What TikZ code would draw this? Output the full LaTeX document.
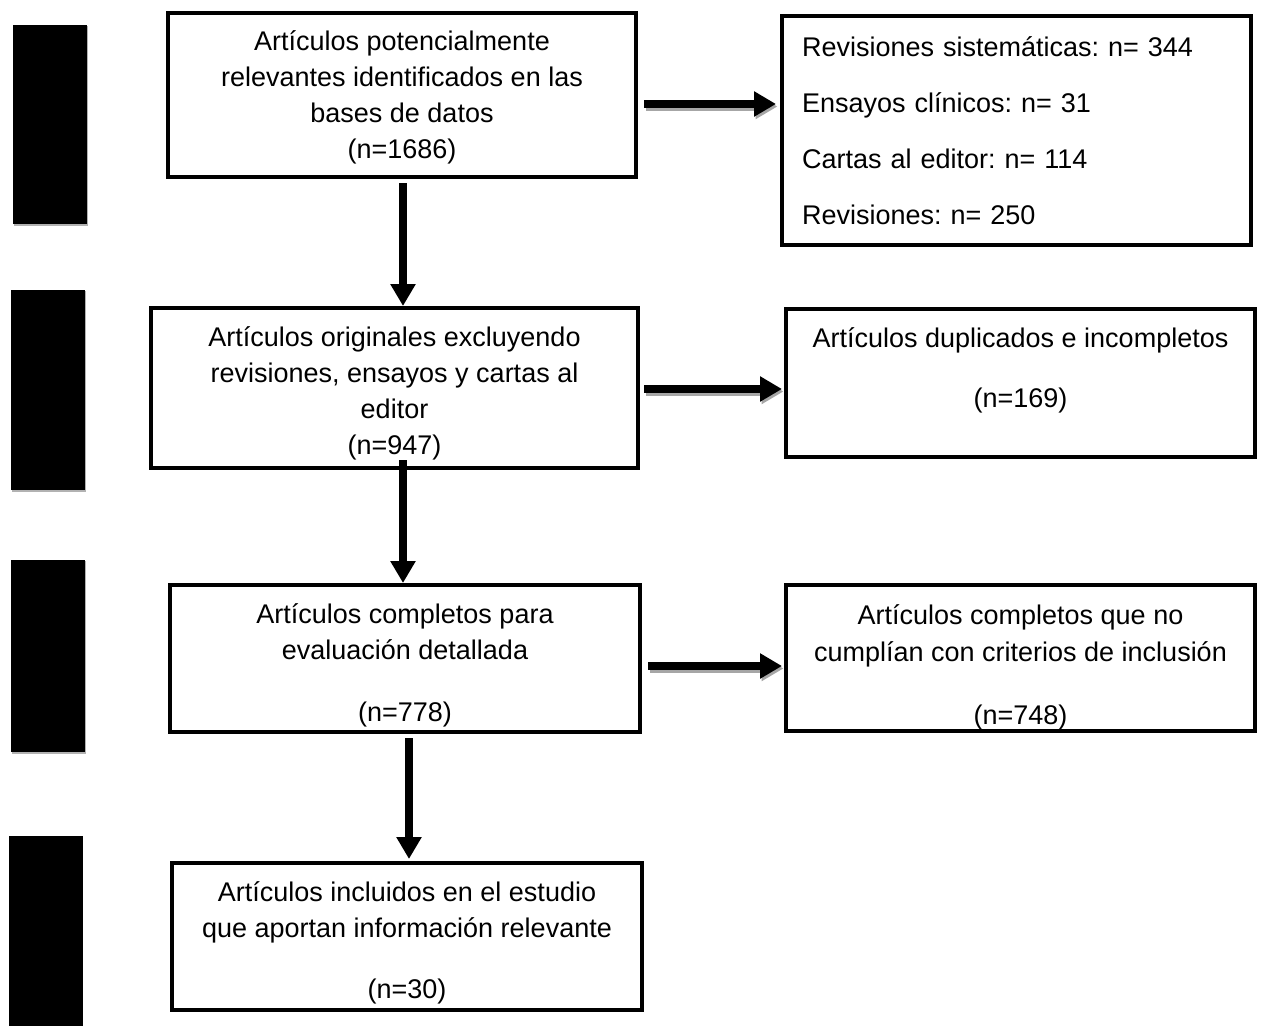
\documentclass[tikz,border=0pt]{standalone}
\usepackage{fontspec}
\setmainfont{Liberation Sans}
\frenchspacing
\usetikzlibrary{arrows.meta}
\begin{document}
\begin{tikzpicture}[x=1pt,y=-1pt,
  box/.style={draw=black,line width=4pt,fill=white,align=center,inner sep=0pt,
    font=\fontsize{27}{36}\selectfont},
  listbox/.style={draw=black,line width=4pt,fill=white,align=left,inner xsep=20pt,inner ysep=0pt,
    text width=429pt,font=\fontsize{27}{36}\selectfont},
  flow/.style={line width=8pt,-{Triangle[length=22pt,width=24pt]}},
  flowshadow/.style={line width=8pt,draw=black!35,-{Triangle[length=22pt,width=24pt]}}
]
\useasboundingbox (0,0) rectangle (1261,1026);
% left black bars
\fill[black!30] (14,26) rectangle (88,226);
\fill[black] (13,25) rectangle (87,224);
\fill[black!30] (12,291) rectangle (86,492);
\fill[black] (11,290) rectangle (85,490);
\fill[black!30] (12,561) rectangle (86,754);
\fill[black] (11,560) rectangle (85,752);
\fill[black] (9,836) rectangle (83,1026);
% main column
\node[box,minimum width=468pt,minimum height=164pt] (b1) at (402,95)
  {\mbox{}\\[-11pt]Artículos potencialmente\\relevantes identificados en las\\bases de datos\\(n=1686)};
\node[box,minimum width=487pt,minimum height=160pt] (b2) at (394.5,388)
  {\mbox{}\\[-6pt]Artículos originales excluyendo\\revisiones, ensayos y cartas al\\editor\\(n=947)};
\node[box,minimum width=470pt,minimum height=147pt] (b3) at (405,658.5)
  {\mbox{}\\[-3pt]Artículos completos para\\evaluación detallada\\[26pt](n=778)};
\node[box,minimum width=470pt,minimum height=147pt] (b4) at (407,936.5)
  {\mbox{}\\[-3pt]Artículos incluidos en el estudio\\que aportan información relevante\\[25pt](n=30)};
% right column
\node[listbox,minimum width=469pt,minimum height=229pt] (r1) at (1016.5,130.5)
  {Revisiones sistemáticas: n= 344\\[20pt]Ensayos clínicos: n= 31\\[20pt]Cartas al editor: n= 114\\[20pt]Revisiones: n= 250};
\node[box,minimum width=469pt,minimum height=148pt] (r2) at (1020.5,383)
  {Artículos duplicados e incompletos\\[24pt](n=169)\\[-5pt]\mbox{}};
\node[box,minimum width=469pt,minimum height=146pt] (r3) at (1020.5,658)
  {\mbox{}\\[2pt]Artículos completos que no\\[1pt]cumplían con criterios de inclusión\\[27pt](n=748)};
% vertical arrows
\draw[flow,shorten <=4pt] ([xshift=1pt]b1.south) -- ([xshift=1pt]b1.south |- b2.north);
\draw[flow,shorten <=-10pt] ([xshift=8.5pt]b2.south) -- ([xshift=8.5pt]b2.south |- b3.north);
\draw[flow,shorten <=4pt,shorten >=2pt] ([xshift=4pt]b3.south) -- ([xshift=4pt]b3.south |- b4.north);
% horizontal arrows (with light shadow)
\draw[flowshadow,shorten <=6pt,shorten >=4pt] ([xshift=1.5pt,yshift=-11.5pt]b1.east) -- ([xshift=1.5pt,yshift=-11.5pt]b1.east -| r1.west);
\draw[flow,shorten <=6pt,shorten >=4pt] ([yshift=-9pt]b1.east) -- ([yshift=-9pt]b1.east -| r1.west);
\draw[flowshadow,shorten <=4pt,shorten >=2pt] ([xshift=1.5pt,yshift=-3.5pt]b2.east) -- ([xshift=1.5pt,yshift=-3.5pt]b2.east -| r2.west);
\draw[flow,shorten <=4pt,shorten >=2pt] ([yshift=-1pt]b2.east) -- ([yshift=-1pt]b2.east -| r2.west);
\draw[flowshadow,shorten <=6pt,shorten >=2pt] ([xshift=1.5pt,yshift=-10pt]b3.east) -- ([xshift=1.5pt,yshift=-10pt]b3.east -| r3.west);
\draw[flow,shorten <=6pt,shorten >=2pt] ([yshift=-7.5pt]b3.east) -- ([yshift=-7.5pt]b3.east -| r3.west);
\end{tikzpicture}
\end{document}
